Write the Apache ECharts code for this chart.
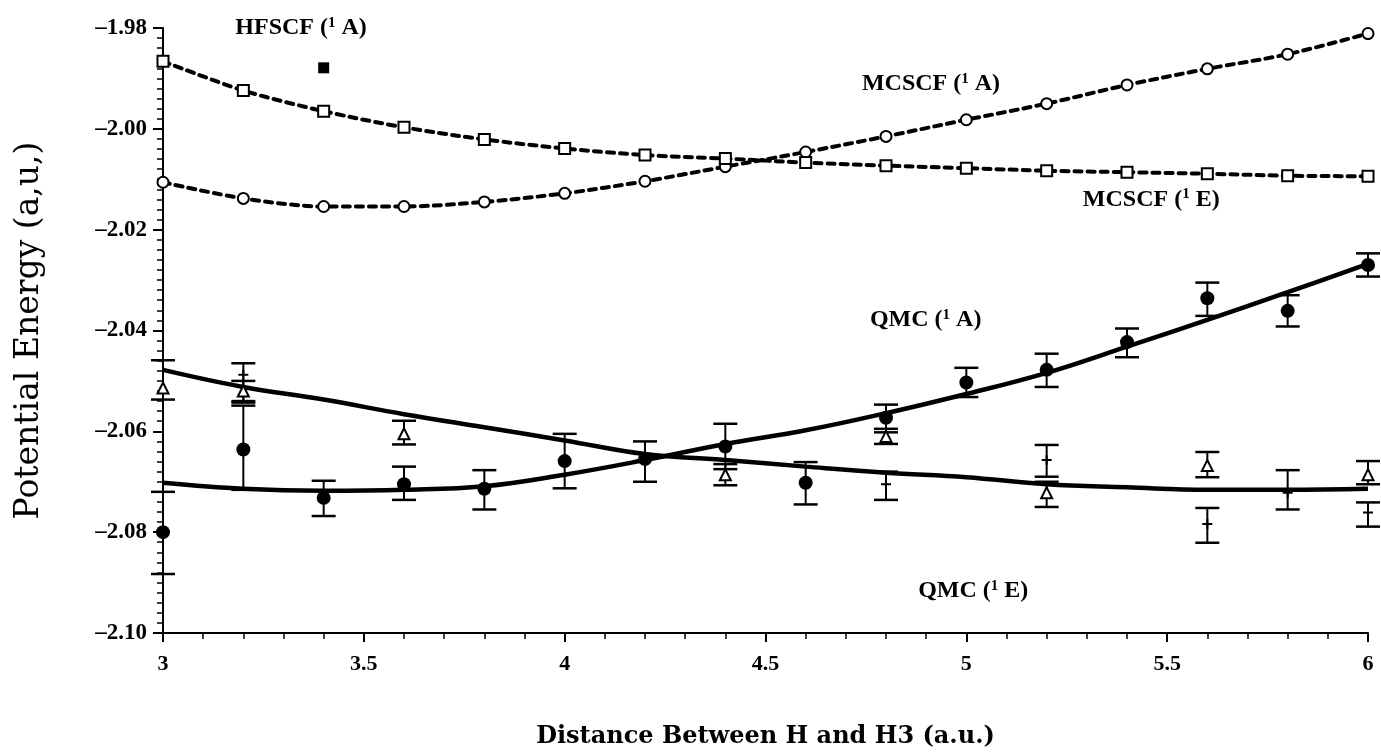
<!DOCTYPE html>
<html>
<head>
<meta charset="utf-8">
<script src="https://cdn.jsdelivr.net/npm/echarts@6/dist/echarts.min.js"></script>
<style>html,body{margin:0;padding:0;background:#fff}#c{width:1381px;height:754px}</style>
</head>
<body>
<div id="c"></div>
<script>
// ---- data ----
const distances = [3.0,3.2,3.4,3.6,3.8,4.0,4.2,4.4,4.6,4.8,5.0,5.2,5.4,5.6,5.8,6.0];
const mcscfA = [-2.0106,-2.0138,-2.0154,-2.0154,-2.0145,-2.0128,-2.0104,-2.0075,-2.0046,-2.0015,-1.9982,-1.9950,-1.9913,-1.9881,-1.9852,-1.9811];
const mcscfE = [-1.9866,-1.9924,-1.9965,-1.9997,-2.0021,-2.0039,-2.0052,-2.0059,-2.0067,-2.0073,-2.0078,-2.0083,-2.0086,-2.0089,-2.0093,-2.0094];
const hfscfX = [3.4];
const hfscfA = [-1.9879];
const qmcA     = [-2.0800,-2.0636,-2.0732,-2.0705,-2.0714,-2.0659,-2.0655,-2.0630,-2.0702,-2.0573,-2.0503,-2.0478,-2.0423,-2.0336,-2.0361,-2.0270];
const qmcAHigh = [-2.0720,-2.0549,-2.0698,-2.0670,-2.0677,-2.0605,-2.0620,-2.0585,-2.0661,-2.0547,-2.0474,-2.0446,-2.0396,-2.0305,-2.0330,-2.0247];
const qmcALow  = [-2.0883,-2.0716,-2.0768,-2.0736,-2.0755,-2.0713,-2.0700,-2.0675,-2.0745,-2.0602,-2.0532,-2.0512,-2.0453,-2.0371,-2.0392,-2.0293];
const qmcAFit  = [-2.0702,-2.0714,-2.0718,-2.0716,-2.0709,-2.0686,-2.0657,-2.0625,-2.0598,-2.0564,-2.0526,-2.0484,-2.0432,-2.0379,-2.0324,-2.0268];
const qmcEFit  = [-2.0478,-2.0512,-2.0537,-2.0566,-2.0592,-2.0618,-2.0645,-2.0657,-2.0670,-2.0682,-2.0691,-2.0705,-2.0711,-2.0716,-2.0716,-2.0714];
const triX    = [3.0,3.2,3.6,4.4,4.8,5.2,5.6,6.0];
const triE    = [-2.0514,-2.0520,-2.0605,-2.0686,-2.0610,-2.0722,-2.0668,-2.0686];
const triHigh = [-2.0459,-2.0500,-2.0579,-2.0665,-2.0595,-2.0700,-2.0641,-2.0659];
const triLow  = [-2.0537,-2.0540,-2.0626,-2.0707,-2.0625,-2.0750,-2.0691,-2.0705];
const plusX    = [3.2,4.8,5.2,5.6,5.8,6.0];
const plusE    = [-2.0488,-2.0705,-2.0657,-2.0784,-2.0722,-2.0761];
const plusHigh = [-2.0465,-2.0680,-2.0627,-2.0752,-2.0677,-2.0741];
const plusLow  = [-2.0543,-2.0736,-2.0690,-2.0821,-2.0755,-2.0789];
const yTicks = {min:-2.10, max:-1.98, step:0.02};
const xTicks = {min:3, max:6, step:0.5};
// curve annotations: [method, state, x (a.u.), energy at label centre]
const curveLabels = [
  ['HFSCF','A',3.18,-1.9800],
  ['MCSCF','A',4.74,-1.9911],
  ['MCSCF','E',5.29,-2.0140],
  ['QMC','A',4.76,-2.0379],
  ['QMC','E',4.88,-2.0917]
];

// ---- helpers ----
const pair = (xa, ya) => xa.map((x,i)=>[x, ya[i]]);
const errData = (xa, hi, lo) => xa.map((x,i)=>[x, lo[i], hi[i]]);
function errorRender(params, api){
  const x = api.value(0);
  const lo = api.coord([x, api.value(1)]);
  const hi = api.coord([x, api.value(2)]);
  const w = 12;
  return {type:'group', children:[
    {type:'line', shape:{x1:lo[0],y1:lo[1],x2:hi[0],y2:hi[1]}, style:{stroke:'#000', lineWidth:2}},
    {type:'line', shape:{x1:hi[0]-w,y1:hi[1],x2:hi[0]+w,y2:hi[1]}, style:{stroke:'#000',lineWidth:2.5}},
    {type:'line', shape:{x1:lo[0]-w,y1:lo[1],x2:lo[0]+w,y2:lo[1]}, style:{stroke:'#000',lineWidth:2.5}}
  ]};
}
const serif = 'Liberation Serif';
function labelRender(params, api){
  const p = api.coord([api.value(0), api.value(1)]);
  const d = curveLabels[params.dataIndex];
  return {type:'text', x:p[0], y:p[1], z2:100,
    style:{text:'{n|'+d[0]+' (}{s|1}{n| '+d[1]+')}', verticalAlign:'middle', align:'left',
      fill:'#000',
      rich:{s:{fontFamily:serif, fontWeight:'bold', fontSize:15, verticalAlign:'top', padding:[0,0,10,0], fill:'#000'},
            n:{fontFamily:serif, fontWeight:'bold', fontSize:24, fill:'#000'}}}};
}
const plusPath = 'path://M4,0h2v4h4v2h-4v4h-2v-4h-4v-2h4z';

const chart = echarts.init(document.getElementById('c'), null, {renderer:'canvas'});
chart.setOption({
  animation:false,
  backgroundColor:'#fff',
  grid:{left:163, right:13, top:28, bottom:121, containLabel:false},
  xAxis:{type:'value', min:xTicks.min, max:xTicks.max, interval:xTicks.step,
    name:'Distance Between H and H3 (a.u.)', nameLocation:'middle', nameGap:92,
    nameTextStyle:{fontFamily:'DejaVu Serif', fontWeight:'bold', fontSize:24, color:'#000'},
    axisLine:{lineStyle:{color:'#000', width:2}},
    axisTick:{length:9, lineStyle:{color:'#000', width:2}},
    minorTick:{show:true, splitNumber:5, length:6, lineStyle:{color:'#000', width:1.5}},
    splitLine:{show:false},
    axisLabel:{margin:20, fontFamily:serif, fontWeight:'bold', fontSize:22, color:'#000',
      formatter:v=>String(+v.toFixed(1))}},
  yAxis:{type:'value', min:yTicks.min, max:yTicks.max, interval:yTicks.step,
    name:'Potential Energy (a,u,)', nameLocation:'middle', nameGap:117, nameRotate:90,
    nameTextStyle:{fontFamily:'DejaVu Serif', fontSize:33, color:'#000'},
    axisLine:{lineStyle:{color:'#000', width:2}},
    axisTick:{length:10, lineStyle:{color:'#000', width:2}},
    minorTick:{show:true, splitNumber:10, length:6, lineStyle:{color:'#000', width:1.5}},
    splitLine:{show:false},
    axisLabel:{margin:16, fontFamily:serif, fontWeight:'bold', fontSize:23, color:'#000',
      formatter:v=>v.toFixed(2).replace('-','\u2013')}},
  series:[
    {type:'line', name:'MCSCF 1A', data:pair(distances, mcscfA), smooth:0.3,
      symbol:'emptyCircle', symbolSize:11, z:5,
      itemStyle:{color:'#000', borderColor:'#000', borderWidth:2.2, opacity:1},
      lineStyle:{color:'#000', width:4, type:[7,6], cap:'round'}},
    {type:'line', name:'MCSCF 1E', data:pair(distances, mcscfE), smooth:0.3,
      symbol:'emptyRect', symbolSize:11, z:5,
      itemStyle:{color:'#000', borderColor:'#000', borderWidth:2.2, opacity:1},
      lineStyle:{color:'#000', width:4, type:[7,6], cap:'round'}},
    {type:'scatter', name:'HFSCF 1A', data:pair(hfscfX, hfscfA), symbol:'rect', symbolSize:11,
      itemStyle:{color:'#000', opacity:1}},
    {type:'line', name:'QMC 1A fit', data:pair(distances, qmcAFit), smooth:0.4, symbol:'none',
      lineStyle:{color:'#000', width:4.5}},
    {type:'line', name:'QMC 1E fit', data:pair(distances, qmcEFit), smooth:0.4, symbol:'none',
      lineStyle:{color:'#000', width:4.5}},
    {type:'custom', name:'QMC 1A err', data:errData(distances, qmcAHigh, qmcALow), renderItem:errorRender,
      encode:{x:0, y:[1,2]}, z:3},
    {type:'custom', name:'QMC 1E tri err', data:errData(triX, triHigh, triLow), renderItem:errorRender,
      encode:{x:0, y:[1,2]}, z:3},
    {type:'custom', name:'QMC 1E plus err', data:errData(plusX, plusHigh, plusLow), renderItem:errorRender,
      encode:{x:0, y:[1,2]}, z:3},
    {type:'scatter', name:'QMC 1A', data:pair(distances, qmcA), symbol:'circle', symbolSize:14, z:6,
      itemStyle:{color:'#000', opacity:1}},
    {type:'scatter', name:'QMC 1E', data:pair(triX, triE), symbol:'emptyTriangle', symbolSize:11, z:6,
      itemStyle:{color:'#000', borderColor:'#000', borderWidth:2.2, opacity:1}},
    {type:'scatter', name:'QMC 1E b', data:pair(plusX, plusE), symbol:plusPath, symbolSize:10, z:6,
      itemStyle:{color:'#000', opacity:1}},
    {type:'custom', name:'labels', data:curveLabels.map(d=>[d[2], d[3]]), renderItem:labelRender,
      encode:{x:0, y:1}, z:20, silent:true, clip:false}
  ]
});
</script>
</body>
</html>
